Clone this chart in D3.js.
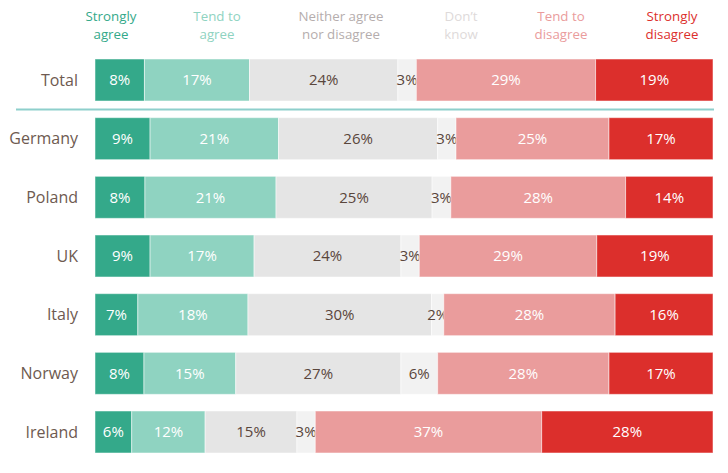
<!DOCTYPE html>
<html>
<head>
<meta charset="utf-8">
<script src="https://cdn.jsdelivr.net/npm/d3@7"></script>
<style>
  body { margin: 0; background: #fff; }
  text { font-family: "Open Sans", "Noto Sans", sans-serif; }
</style>
</head>
<body>
<div id="chart"></div>
<script>
// rows of the chart
const countries = ["Total", "Germany", "Poland", "UK", "Italy", "Norway", "Ireland"];
// answer categories, left to right
const answers = ["Strongly agree", "Tend to agree", "Neither agree nor disagree", "Don't know", "Tend to disagree", "Strongly disagree"];
// header text split on two lines
const headerLines = [["Strongly", "agree"], ["Tend to", "agree"], ["Neither agree", "nor disagree"], ["Don’t", "know"], ["Tend to", "disagree"], ["Strongly", "disagree"]];
// percent per country, same order as answers
const stronglyAgree    = [8, 9, 8, 9, 7, 8, 6];
const tendAgree        = [17, 21, 21, 17, 18, 15, 12];
const neither          = [24, 26, 25, 24, 30, 27, 15];
const dontKnow         = [3, 3, 3, 3, 2, 6, 3];
const tendDisagree     = [29, 25, 28, 29, 28, 28, 37];
const stronglyDisagree = [19, 17, 14, 19, 16, 17, 28];

const svgwidth = 728;
const svgheight = 473;

var colors = ["#34a98a", "#8fd3c1", "#e5e5e5", "#f2f2f2", "#ea9c9c", "#dc2f2c"];
var headColors = ["#34a98a", "#8fd3c1", "#b5adad", "#dedada", "#ea9c9c", "#dc2f2c"];
var textColors = ["#ffffff", "#ffffff", "#5a463c", "#5a463c", "#ffffff", "#ffffff"];
var headerX = [111, 217, 341, 461, 561, 672];

var svg = d3.select("#chart")
  .append("svg")
  .attr("width", svgwidth)
  .attr("height", svgheight);

// build table for stacking
var series = [stronglyAgree, tendAgree, neither, dontKnow, tendDisagree, stronglyDisagree];
var table = countries.map(function(c, i) {
  var row = {country: c};
  answers.forEach(function(a, j) { row[a] = series[j][i]; });
  return row;
});

// each row stretched to full width
var stacked = d3.stack()
  .keys(answers)
  .offset(d3.stackOffsetExpand)(table);

var x = d3.scaleLinear().domain([0, 1]).range([95, 713]);
var y = d3.scaleBand().domain(countries).range([59, 453]).paddingInner(0.284);

// header
answers.forEach(function(a, j) {
  var t = svg.append("text")
    .attr("x", headerX[j])
    .attr("y", 21)
    .attr("text-anchor", "middle")
    .attr("fill", headColors[j])
    .style("font-size", "13.3px");
  headerLines[j].forEach(function(line, k) {
    t.append("tspan").attr("x", headerX[j]).attr("dy", k == 0 ? 0 : 18).text(line);
  });
});

// separator below Total
svg.append("line")
  .attr("x1", 16).attr("x2", 714)
  .attr("y1", 109.5).attr("y2", 109.5)
  .attr("stroke", "#8ecfcc")
  .attr("stroke-width", 2);

// country labels
svg.selectAll(".country")
  .data(countries)
  .enter()
  .append("text")
  .attr("class", "country")
  .attr("x", 78)
  .attr("y", d => y(d) + y.bandwidth() / 2)
  .attr("dy", "0.35em")
  .attr("text-anchor", "end")
  .attr("fill", "#6e5a50")
  .style("font-size", "16px")
  .text(d => d);

// segments
var groups = svg.selectAll(".layer")
  .data(stacked)
  .enter()
  .append("g")
  .attr("class", "layer");

groups.selectAll("rect")
  .data(d => d)
  .enter()
  .append("rect")
  .attr("x", d => x(d[0]))
  .attr("y", d => y(d.data.country))
  .attr("width", d => x(d[1]) - x(d[0]))
  .attr("height", y.bandwidth())
  .attr("fill", function() { return colors[d3.select(this.parentNode).datum().index]; })
  .attr("stroke", "#ffffff")
  .attr("stroke-opacity", 0.5)
  .attr("stroke-width", 1);

groups.selectAll("text")
  .data(d => d.map(v => ({v: v, k: d.key, i: d.index})))
  .enter()
  .append("text")
  .attr("x", d => (x(d.v[0]) + x(d.v[1])) / 2)
  .attr("y", d => y(d.v.data.country) + y.bandwidth() / 2)
  .attr("dy", "0.35em")
  .attr("text-anchor", "middle")
  .attr("fill", d => textColors[d.i])
  .style("font-size", "15px")
  .text(d => d.v.data[d.k] + "%");
</script>
</body>
</html>
